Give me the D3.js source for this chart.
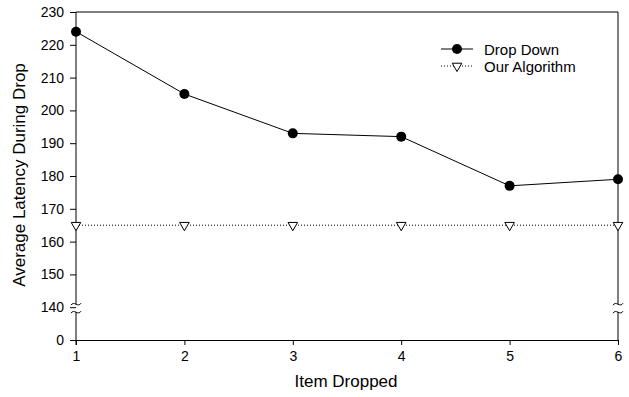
<!DOCTYPE html>
<html><head><meta charset="utf-8">
<script src="https://cdn.jsdelivr.net/npm/d3@7"></script>
<style>body{margin:0;background:#fff}svg{display:block}text{font-family:"Liberation Sans",Arial,sans-serif;fill:#000}</style>
</head><body>
<script>
const items = [1, 2, 3, 4, 5, 6];
const dropDown = [224, 205, 193, 192, 177, 179];
const ourAlgorithm = [165, 165, 165, 165, 165, 165];
const yTicks = [0, 140, 150, 160, 170, 180, 190, 200, 210, 220, 230];
const seriesNames = ["Drop Down", "Our Algorithm"];

const W = 629, H = 397;
const L = 76, R = 618, T = 12, B = 340;
const step = (B - T) / 10;
const svg = d3.select("body").append("svg").attr("width", W).attr("height", H);

const x = d3.scaleLinear().domain([1, 6]).range([L, R]);
const y = d3.scaleLinear().domain([0, 140, 230]).range([B, B - step, T]);

// frame: top and right
svg.append("line").attr("x1", L).attr("x2", R).attr("y1", T).attr("y2", T).attr("stroke", "#000");
const brkA = y(140) - 3, brkB = y(140) + 5;
svg.append("line").attr("x1", R).attr("x2", R).attr("y1", T).attr("y2", brkA).attr("stroke", "#000");
svg.append("line").attr("x1", R).attr("x2", R).attr("y1", brkB).attr("y2", B).attr("stroke", "#000");

// left axis
const gy = svg.append("g").attr("transform", `translate(${L},0)`)
  .call(d3.axisLeft(y).tickValues(yTicks).tickSize(6).tickPadding(6).tickFormat(d3.format("d")));
gy.select(".domain").remove();
gy.selectAll("text").style("font-size", "14px");
gy.selectAll("line").attr("stroke", "#000");
svg.append("line").attr("x1", L).attr("x2", L).attr("y1", T).attr("y2", brkA).attr("stroke", "#000");
svg.append("line").attr("x1", L).attr("x2", L).attr("y1", brkB).attr("y2", B + 5).attr("stroke", "#000");

// break marks
function brk(cx, cy) {
  const p = d3.path();
  p.moveTo(cx - 5, cy + 1);
  p.bezierCurveTo(cx - 2, cy - 4, cx + 2, cy + 4, cx + 5, cy - 1);
  svg.append("path").attr("d", p.toString()).attr("fill", "none").attr("stroke", "#000");
}
[L, R].forEach(cx => { brk(cx, brkA); brk(cx, brkB); });

// bottom axis
const gx = svg.append("g").attr("transform", `translate(0,${B})`)
  .call(d3.axisBottom(x).tickValues(items).tickSize(5).tickPadding(6).tickFormat(d3.format("d")));
gx.select(".domain").attr("d", `M${L},0.5H${R}`).attr("stroke", "#000");
gx.selectAll("text").style("font-size", "14px");
gx.selectAll("line").attr("stroke", "#000");

// titles
svg.append("text").attr("x", 346).attr("y", 387).attr("text-anchor", "middle").style("font-size", "17px").text("Item Dropped");
svg.append("text").attr("transform", `translate(25,175) rotate(-90)`).attr("text-anchor", "middle").style("font-size", "17px").text("Average Latency During Drop");

// series
const line = d3.line().x((d, i) => x(items[i])).y(d => y(d));
svg.append("path").datum(ourAlgorithm).attr("d", line).attr("fill", "none").attr("stroke", "#000").attr("stroke-dasharray", "1,2");
svg.append("path").datum(dropDown).attr("d", line).attr("fill", "none").attr("stroke", "#000");
const tri = d3.symbol().type(d3.symbolTriangle).size(40);
svg.selectAll(".tri").data(ourAlgorithm).join("path")
  .attr("transform", (d, i) => `translate(${x(items[i])},${y(d)}) rotate(180)`)
  .attr("d", tri).attr("fill", "#fff").attr("stroke", "#000");
svg.selectAll(".dot").data(dropDown).join("circle")
  .attr("cx", (d, i) => x(items[i])).attr("cy", d => y(d)).attr("r", 5).attr("fill", "#000");

// legend
const lg = svg.append("g").attr("transform", "translate(441,49)");
lg.append("line").attr("x1", 0).attr("x2", 32).attr("y1", 0).attr("y2", 0).attr("stroke", "#000");
lg.append("circle").attr("cx", 16).attr("cy", 0).attr("r", 5).attr("fill", "#000");
lg.append("text").attr("x", 43).attr("y", 5.5).style("font-size", "15px").text(seriesNames[0]);
lg.append("line").attr("x1", 0).attr("x2", 32).attr("y1", 17).attr("y2", 17).attr("stroke", "#000").attr("stroke-dasharray", "1,2");
lg.append("path").attr("transform", "translate(16,17) rotate(180)").attr("d", tri).attr("fill", "#fff").attr("stroke", "#000");
lg.append("text").attr("x", 43).attr("y", 22.5).style("font-size", "15px").text(seriesNames[1]);
</script>
</body></html>
